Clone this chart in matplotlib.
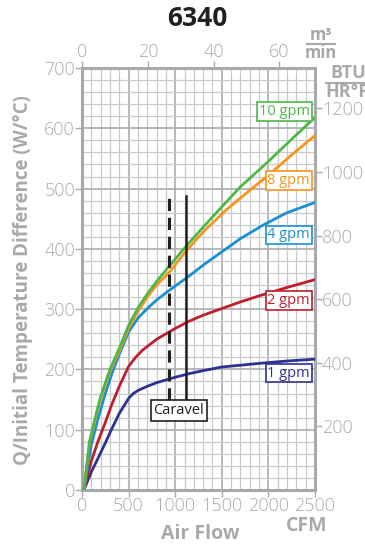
import matplotlib
matplotlib.use("Agg")
import matplotlib.pyplot as plt
from matplotlib.ticker import MultipleLocator

# ---- data ----
cfm_1 = [20, 100, 170, 250, 315, 400, 500, 550, 600, 700, 800, 1000, 1150,
         1300, 1500, 1700, 1900, 2200, 2500]
w_1 = [0, 30, 52, 78, 100, 127, 152, 160, 165, 172, 178, 187, 193,
       198, 204, 207, 210, 214, 217]

cfm_2 = [20, 100, 170, 250, 315, 400, 500, 575, 650, 800, 1000, 1150,
         1300, 1500, 1700, 1900, 2200, 2500]
w_2 = [0, 48, 80, 112, 140, 172, 205, 220, 232, 250, 268, 280,
       290, 301, 312, 322, 336, 349]

cfm_4 = [20, 100, 175, 250, 325, 400, 500, 600, 700, 800, 925, 1150,
         1300, 1500, 1700, 1950, 2200, 2500]
w_4 = [0, 75, 120, 160, 195, 225, 262, 285, 301, 315, 330, 355,
       373, 395, 417, 440, 460, 477]

cfm_8 = [20, 80, 150, 200, 300, 400, 500, 600, 700, 800, 930, 1120,
         1300, 1550, 1800, 2000, 2250, 2500]
w_8 = [0, 78, 122, 152, 197, 230, 268, 296, 320, 340, 360, 397,
       428, 465, 497, 522, 556, 588]

cfm_10 = [20, 80, 150, 200, 300, 400, 500, 600, 700, 800, 930, 1120,
          1300, 1460, 1700, 2000, 2250, 2500]
w_10 = [0, 80, 125, 155, 200, 235, 273, 302, 325, 346, 370, 405,
        436, 463, 503, 545, 582, 618]

series_labels = ["1 gpm", "2 gpm", "4 gpm", "8 gpm", "10 gpm"]
label_y = [194, 314, 423, 513, 628]

caravel_dashed_cfm = 930
caravel_solid_cfm = 1120
caravel_top = 487
caravel_bottom = 150

y_ticks = [0, 100, 200, 300, 400, 500, 600, 700]
x_ticks = [0, 500, 1000, 1500, 2000, 2500]
top_ticks = [0, 20, 40, 60]
right_ticks = [200, 400, 600, 800, 1000, 1200]

CFM_TO_M3MIN = 0.0283168
W_TO_BTU = 1.8956

# ---- styling ----
plt.rcParams['font.family'] = ['Open Sans', 'DejaVu Sans']
grey = '#a7a9ac'
txtgrey = '#a7a9ac'
colors = ['#2e3192', '#be1e2d', '#1b8fd2', '#f7941d', '#4db848']

fig = plt.figure(figsize=(3.65, 5.49), dpi=100)
ax = fig.add_axes([82/365, 1 - 490/549, (315-82)/365, (490-68)/549])

ax.set_xlim(0, 2500)
ax.set_ylim(0, 700)

# grid
ax.xaxis.set_minor_locator(MultipleLocator(100))
ax.yaxis.set_minor_locator(MultipleLocator(20))
ax.set_xticks(x_ticks)
ax.set_yticks(y_ticks)
ax.grid(which='minor', color='#c9cacc', linewidth=0.9, zorder=0)
ax.grid(which='major', color='#b0b2b5', linewidth=1.3, zorder=0)
ax.set_axisbelow(True)
for s in ax.spines.values():
    s.set_color(grey)
    s.set_linewidth(2.2)

ax.tick_params(which='major', direction='out', length=5, width=1, color=grey,
               labelcolor=txtgrey, labelsize=13, pad=0)
ax.tick_params(which='minor', length=0)
ax.set_xticklabels([str(t) for t in x_ticks])
for lab in ax.get_xticklabels() + ax.get_yticklabels():
    lab.set_fontweight('light')

# curves
for cx, wy, c in [(cfm_1, w_1, colors[0]), (cfm_2, w_2, colors[1]),
                  (cfm_4, w_4, colors[2]), (cfm_8, w_8, colors[3]),
                  (cfm_10, w_10, colors[4])]:
    ax.plot(cx, wy, color=c, linewidth=2.0, solid_capstyle='round',
            solid_joinstyle='round', zorder=3)

# series labels
for lab, ly, c in zip(series_labels, label_y, colors):
    ax.text(2446, ly, lab, color=c, fontsize=10.5, ha='right', va='center',
            zorder=5,
            bbox=dict(boxstyle='square,pad=0.12', facecolor='white',
                      edgecolor=c, linewidth=1.2))

# Caravel lines
ax.plot([caravel_dashed_cfm, caravel_dashed_cfm], [caravel_bottom, caravel_top],
        color='#231f20', linewidth=2.2, linestyle=(0, (4, 2.2)), zorder=4)
ax.plot([caravel_solid_cfm, caravel_solid_cfm], [caravel_bottom - 3, caravel_top],
        color='#231f20', linewidth=1.8, zorder=4)
ax.text(1040, 132, 'Caravel', color='#231f20', fontsize=10.5, ha='center',
        va='center', zorder=5,
        bbox=dict(boxstyle='square,pad=0.2', facecolor='white',
                  edgecolor='#231f20', linewidth=1.2))

# secondary axes
top = ax.secondary_xaxis('top', functions=(lambda x: x * CFM_TO_M3MIN,
                                           lambda m: m / CFM_TO_M3MIN))
top.set_xticks(top_ticks)
top.tick_params(direction='out', length=5, width=1, color=grey,
                labelcolor=txtgrey, labelsize=13, pad=0)
top.spines['top'].set_visible(False)
for lab in top.get_xticklabels():
    lab.set_fontweight('light')

right = ax.secondary_yaxis('right', functions=(lambda w: w * W_TO_BTU,
                                               lambda b: b / W_TO_BTU))
right.set_yticks(right_ticks)
right.tick_params(direction='out', length=5, width=1, color=grey,
                  labelcolor=txtgrey, labelsize=13, pad=0)
right.spines['right'].set_visible(False)
for lab in right.get_yticklabels():
    lab.set_fontweight('light')

# labels
fig.text(197/365, 1 - 18/549, '6340', fontsize=19, fontweight='bold',
         color='#231f20', ha='center', va='center')
fig.text(200/365, 1 - 534/549, 'Air Flow', fontsize=14, fontweight='bold',
         color=txtgrey, ha='center', va='center')
fig.text(307/365, 1 - 526/549, 'CFM', fontsize=14, fontweight='bold',
         color=txtgrey, ha='center', va='center')
fig.text(23/365, 1 - 280/549, 'Q/Initial Temperature Difference (W/°C)',
         fontsize=13.5, fontweight='bold', color=txtgrey, rotation=90,
         ha='center', va='center')

# m3/min fraction
fig.text(321/365, 1 - 35/549, 'm³', fontsize=12, fontweight='bold',
         color=txtgrey, ha='center', va='center')
fig.add_artist(plt.Line2D([307/365, 335/365], [1 - 44/549, 1 - 44/549],
                          color=txtgrey, linewidth=1.5))
fig.text(321/365, 1 - 53/549, 'min', fontsize=12, fontweight='bold',
         color=txtgrey, ha='center', va='center')

# BTU/HR°F fraction (cut at the right edge, as in the reference)
fig.text(330/365, 1 - 73/549, 'BTU', fontsize=13, fontweight='bold',
         color=txtgrey, ha='left', va='center')
fig.add_artist(plt.Line2D([326/365, 1.0], [1 - 83/549, 1 - 83/549],
                          color=txtgrey, linewidth=1.5))
fig.text(325/365, 1 - 92/549, 'HR°F', fontsize=13, fontweight='bold',
         color=txtgrey, ha='left', va='center')

fig.savefig('out.png', dpi=100)
